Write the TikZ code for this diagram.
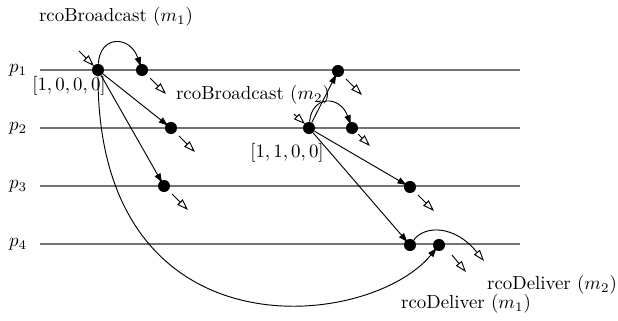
\documentclass[tikz,border=0pt]{standalone}
\usetikzlibrary{arrows.meta}
\begin{document}
\begin{tikzpicture}[x=0.53pt,y=-0.53pt,
  ev/.style={circle,fill,inner sep=0pt,minimum size=6.4pt},
  msg/.style={line width=0.5pt,-{Latex[length=5.5pt,width=3.6pt]},shorten >=-2pt},
  deliv/.style={line width=0.5pt,-{Triangle[open,length=6pt,width=4pt]}},
  proc/.style={black!55,line width=0.8pt}]
 \useasboundingbox (0,0) rectangle (618,320);
 % processes
 \foreach \i/\y in {1/70,2/128,3/186,4/244} {
  \node (p\i) at (18,\y) {$p_{\i}$};
  \draw[proc] (40,\y) -- (520,\y);
 }
 % labels
 \node (bc1) at (116,17) {rcoBroadcast ($m_1$)};
 \node (vc1) at (69,86) {$[1,0,0,0]$};
 \node (bc2) at (253,95) {rcoBroadcast ($m_2$)};
 \node (vc2) at (287,153) {$[1,1,0,0]$};
 \node (dl2) at (552,285) {rcoDeliver ($m_2$)};
 \node (dl1) at (466,304) {rcoDeliver ($m_1$)};
 % events
 \node[ev] (A) at (98,70) {};
 \node[ev] (B) at (142,70) {};
 \node[ev] (C) at (171,128) {};
 \node[ev] (D) at (164,186) {};
 \node[ev] (E) at (309,128) {};
 \node[ev] (F) at (338,71) {};
 \node[ev] (G) at (352,128) {};
 \node[ev] (H) at (410,187) {};
 \node[ev] (I) at (410,245) {};
 \node[ev] (J) at (439,245) {};
 % messages
 \draw[msg] (A) .. controls (100,35) and (130,35) .. (B);
 \draw[msg] (A) -- (C);
 \draw[msg] (A) -- (D);
 \draw[msg] (A) .. controls (98,360) and (370,330) .. (J);
 \draw[msg] (E) -- (F);
 \draw[msg] (E) .. controls (312,95) and (340,95) .. (G);
 \draw[msg] (E) -- (H);
 \draw[msg] (E) -- (I);
 % invocations and deliveries
 \draw[deliv] (A) ++(-19,-19) -- ++(15,15);
 \draw[deliv] (E) ++(-15,-14) -- ++(11,10);
 \foreach \e in {B,C,D,F,H} \draw[deliv] (\e) ++(8,8) -- ++(16,16);
 \draw[deliv] (G) ++(6,6) -- ++(12,12);
 \draw[deliv] (J) ++(13,10) -- ++(14,17);
 \coordinate (Iend) at (484,261);
 \draw[deliv] (I) .. controls (425,225) and (455,225) .. (Iend);
\end{tikzpicture}
\end{document}
